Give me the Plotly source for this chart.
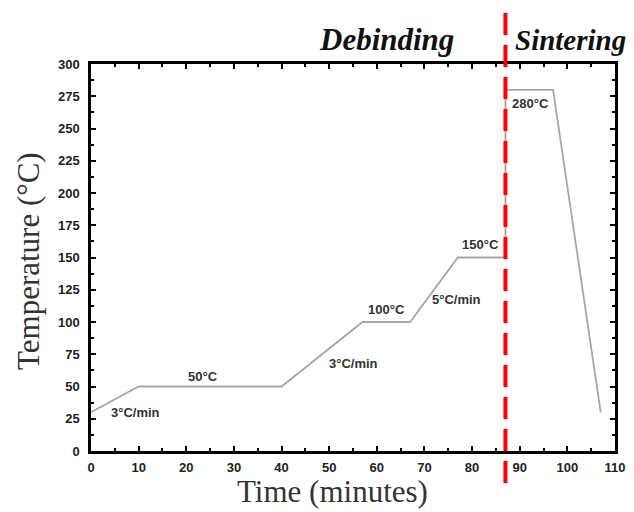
import plotly.graph_objects as go

time_min = [0, 10, 40, 57, 67, 77, 87, 87, 97, 107]
temp_c = [30, 50, 50, 100, 100, 150, 150, 280, 280, 30]

label_text = ["3°C/min", "50°C", "3°C/min", "100°C", "5°C/min", "150°C", "280°C"]
label_x = [9.4, 23.5, 55, 62.1, 76.8, 81.7, 92.2]
label_y = [29.5, 57.4, 68, 110, 117.8, 159.7, 269]

divider_x = 87
x_ticks = list(range(0, 111, 10))
y_ticks = list(range(0, 301, 25))

# page body has an 8px margin; plot area in page pixels: x 91..615, y 64..451
PL, PR, PT, PB = 91, 615, 64, 451
FW, FH = 626, 504


def px(x):
    return (x - PL) / (PR - PL)


def py(y):
    return (PB - y) / (PB - PT)


fig = go.Figure()
fig.add_trace(go.Scatter(x=time_min, y=temp_c, mode="lines",
                         line=dict(color="#a6a6a6", width=1.8),
                         showlegend=False, hoverinfo="skip"))

for t, x, y in zip(label_text, label_x, label_y):
    fig.add_annotation(x=x, y=y, text=t, showarrow=False, xanchor="center", yanchor="middle",
                       font=dict(family="Liberation Sans", size=13, color="#333333", weight="bold"))

fig.add_shape(type="line", xref="x", yref="paper", x0=divider_x, x1=divider_x,
              y0=py(13), y1=py(486), line=dict(color="#ff0000", width=4, dash="22px,10px"),
              layer="above")

fig.add_annotation(xref="paper", yref="paper", x=px(386), y=py(40), xanchor="center", yanchor="middle",
                   text="<b><i>Debinding</i></b>", showarrow=False,
                   font=dict(family="Liberation Serif", size=31, color="#111111"))
fig.add_annotation(xref="paper", yref="paper", x=px(513), y=py(40), xanchor="left", yanchor="middle",
                   text="<b><i>Sintering</i></b>", showarrow=False,
                   font=dict(family="Liberation Serif", size=29, color="#111111"))

fig.add_annotation(xref="paper", yref="paper", x=px(332), y=py(492), xanchor="center", yanchor="middle",
                   text="Time (minutes)", showarrow=False,
                   font=dict(family="Liberation Serif", size=31, color="#333333"))
fig.add_annotation(xref="paper", yref="paper", x=px(29), y=py(261), xanchor="center", yanchor="middle",
                   text="Temperature (°C)", showarrow=False, textangle=-90,
                   font=dict(family="Liberation Serif", size=31, color="#333333"))

axis_common = dict(showgrid=False, zeroline=False, showline=True, linecolor="black",
                   linewidth=2.5, mirror="allticks", ticks="inside", ticklen=5,
                   tickwidth=2, tickcolor="black", automargin=False,
                   tickfont=dict(family="Liberation Sans", size=13, color="#222222", weight="bold"))

fig.update_xaxes(range=[0, 110], tickvals=x_ticks, ticklabelstandoff=3, **axis_common,
                 minor=dict(ticks="inside", ticklen=3, tickwidth=2, tickcolor="black", dtick=5))
fig.update_yaxes(range=[0, 300], tickvals=y_ticks, ticklabelstandoff=6, **axis_common,
                 minor=dict(ticks="inside", ticklen=3, tickwidth=2, tickcolor="black", dtick=12.5))

fig.update_layout(width=FW, height=FH,
                  margin=dict(l=PL - 8, r=8 + FW - PR, t=PT - 8, b=8 + FH - PB),
                  plot_bgcolor="white", paper_bgcolor="white")

fig.write_html("out.html")
